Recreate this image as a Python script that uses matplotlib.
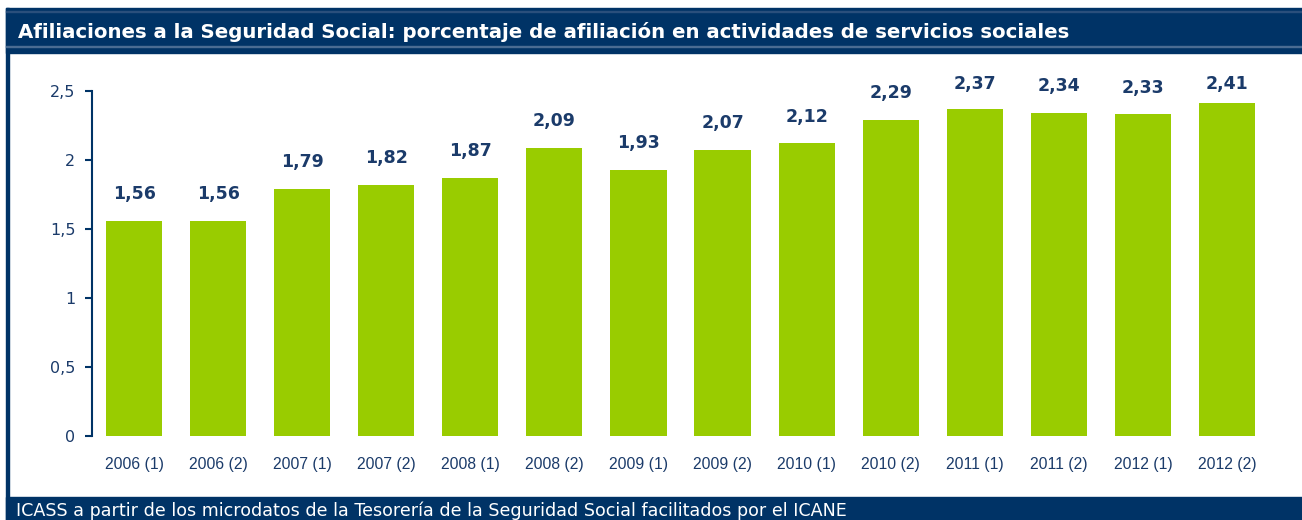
import numpy as np
import matplotlib.pyplot as plt
from matplotlib.patches import Rectangle

periodos = ["2006 (1)", "2006 (2)", "2007 (1)", "2007 (2)", "2008 (1)", "2008 (2)",
            "2009 (1)", "2009 (2)", "2010 (1)", "2010 (2)", "2011 (1)", "2011 (2)",
            "2012 (1)", "2012 (2)"]
porcentaje = [1.56, 1.56, 1.79, 1.82, 1.87, 2.09, 1.93, 2.07, 2.12, 2.29, 2.37, 2.34, 2.33, 2.41]
yticks = [0, 0.5, 1, 1.5, 2, 2.5]
ytick_labels = ["0", "0,5", "1", "1,5", "2", "2,5"]

titulo = "Afiliaciones a la Seguridad Social: porcentaje de afiliación en actividades de servicios sociales"
fuente = "ICASS a partir de los microdatos de la Tesorería de la Seguridad Social facilitados por el ICANE"

navy = "#003366"
green = "#99CC00"
text_navy = "#1B3B6A"

W, H = 1302, 520
fig = plt.figure(figsize=(W / 100, H / 100), dpi=100)

# title bar, left border, footer (figure pixel coords -> fraction)
def px_rect(x0, y0, x1, y1, color, z=0):
    fig.patches.append(Rectangle((x0 / W, 1 - y1 / H), (x1 - x0) / W, (y1 - y0) / H,
                                 transform=fig.transFigure, color=color, zorder=z))

px_rect(6, 8, W, 53, navy)
px_rect(6, 11, W, 12, "#2A4F7C", 1)
px_rect(6, 46, W, 47, "#4A6C92", 1)
px_rect(6, 8, 9, 520, navy)
px_rect(6, 497, W, 520, navy)

fig.text(18 / W, 1 - 32 / H, titulo, color="white", fontsize=14.2, fontweight="bold",
         va="center", ha="left", family="DejaVu Sans")
fig.text(16 / W, 1 - 511 / H, fuente, color="white", fontsize=12.6,
         va="center", ha="left", family="DejaVu Sans")

ax = fig.add_axes([92 / W, 84 / H, (1269 - 92) / W, (436 - 91) / H])
x = np.arange(len(periodos))
ax.bar(x, porcentaje, width=0.667, color=green, zorder=2)

for xi, v in zip(x, porcentaje):
    ytxt = min(v + 0.195, 2.55)
    ax.text(xi, ytxt, f"{v:.2f}".replace(".", ","), ha="center", va="center",
            fontsize=12.5, fontweight="bold", color=text_navy, clip_on=False)

ax.set_xlim(-0.5, len(periodos) - 0.5)
ax.set_ylim(0, 2.5)
ax.set_yticks(yticks)
ax.set_yticklabels(ytick_labels, fontsize=11.5, color=text_navy)
ax.set_xticks(x)
ax.set_xticklabels(periodos, fontsize=11.3, color=text_navy, family="Liberation Sans")
ax.tick_params(axis="y", direction="out", length=5, width=1.5, color=navy, pad=7)
ax.tick_params(axis="x", length=0, pad=15)
for s in ["top", "right", "bottom"]:
    ax.spines[s].set_visible(False)
ax.spines["left"].set_color(navy)
ax.spines["left"].set_linewidth(1.5)
ax.patch.set_alpha(0)

fig.savefig("out.png", dpi=100)
